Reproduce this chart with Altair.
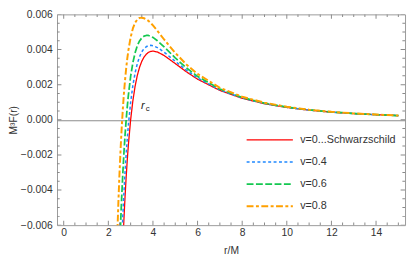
import altair as alt
import pandas as pd

# ---- data ----
r_grid = [2.4, 2.45, 2.5, 2.55, 2.6, 2.65, 2.7, 2.75, 2.8, 2.85, 2.9, 3.0, 3.1, 3.2, 3.3,
          3.4, 3.5, 3.6, 3.7, 3.8, 3.9, 4.0, 4.2, 4.5, 5.0, 5.5, 6.0, 7.0, 8.0, 9.0,
          10.0, 11.0, 12.0, 13.0, 14.0, 15.0]

F_v00 = [-0.01808, -0.01527, -0.0128, -0.01064, -0.00875, -0.0071, -0.00565, -0.00437,
         -0.00325, -0.00227, -0.00141, 0.0, 0.00108, 0.00191, 0.00253, 0.00299, 0.00333,
         0.00357, 0.00373, 0.00384, 0.00389, 0.00391, 0.00386, 0.00366, 0.0032, 0.00273,
         0.00231, 0.00167, 0.00122, 0.000914, 0.0007, 0.000546, 0.000434, 0.00035,
         0.000286, 0.000237]

F_v04 = [-0.01567, -0.01304, -0.01075, -0.00875, -0.007, -0.00547, -0.00414, -0.00297,
         -0.00195, -0.00106, -0.00028, 0.00099, 0.00195, 0.00267, 0.0032, 0.00359, 0.00387,
         0.00405, 0.00416, 0.00422, 0.00424, 0.00422, 0.00411, 0.00385, 0.00333, 0.00282,
         0.00238, 0.0017, 0.00124, 0.000927, 0.000708, 0.000552, 0.000438, 0.000353,
         0.000288, 0.000239]

F_v06 = [-0.01206, -0.00971, -0.00768, -0.00591, -0.00438, -0.00304, -0.00188, -0.00087,
         0.0, 0.00076, 0.00141, 0.00247, 0.00325, 0.00381, 0.00422, 0.00449, 0.00466,
         0.00476, 0.0048, 0.0048, 0.00475, 0.00469, 0.0045, 0.00415, 0.00352, 0.00295,
         0.00247, 0.00175, 0.00127, 0.000945, 0.00072, 0.00056, 0.000444, 0.000357,
         0.000292, 0.000241]

F_v08 = [-0.00663, -0.00472, -0.00307, -0.00166, -0.00044, 0.00061, 0.00151, 0.00227,
         0.00293, 0.00349, 0.00396, 0.00469, 0.0052, 0.00553, 0.00571, 0.0058, 0.00581,
         0.00578, 0.00572, 0.00563, 0.00551, 0.00537, 0.00506, 0.00457, 0.00381, 0.00315,
         0.00261, 0.00182, 0.00131, 0.000972, 0.000738, 0.000572, 0.000452, 0.000363,
         0.000296, 0.000244]

series_names = ["v=0...Schwarzschild", "v=0.4", "v=0.6", "v=0.8"]
series_values = [F_v00, F_v04, F_v06, F_v08]
series_colors = ["#ff0000", "#1e88ff", "#14c850", "#ffa000"]
series_dash = [[1, 0], [3, 2.5], [7, 2.5], [7, 2.5, 3, 2.5]]
series_width = [1.3, 2.0, 2.0, 2.0]

x_domain = [-0.3, 15.3]
y_domain = [-0.006, 0.006]
x_labels = [0, 2, 4, 6, 8, 10, 12, 14]
x_minor = [0.5, 1, 1.5, 2.5, 3, 3.5, 4.5, 5, 5.5, 6.5, 7, 7.5, 8.5, 9, 9.5,
           10.5, 11, 11.5, 12.5, 13, 13.5, 14.5, 15]
y_labels = [-0.006, -0.004, -0.002, 0.0, 0.002, 0.004, 0.006]
y_minor = [-0.0055, -0.005, -0.0045, -0.0035, -0.003, -0.0025, -0.0015, -0.001, -0.0005,
           0.0005, 0.001, 0.0015, 0.0025, 0.003, 0.0035, 0.0045, 0.005, 0.0055]

rc_r = [3.55]
rc_F = [0.00078]

rows = []
for name, vals in zip(series_names, series_values):
    for r, f in zip(r_grid, vals):
        rows.append({"r": r, "F": f, "series": name})
df = pd.DataFrame(rows)
rc_df = pd.DataFrame({"r": rc_r, "F": rc_F})

# frame tick positions: x ticks sit on the bottom/top edges, y ticks on the left/right edges
xt_major = pd.DataFrame([{"r": v, "F": e} for v in x_labels for e in y_domain])
xt_minor = pd.DataFrame([{"r": v, "F": e} for v in x_minor for e in y_domain])
yt_major = pd.DataFrame([{"r": e, "F": v} for v in y_labels for e in x_domain])
yt_minor = pd.DataFrame([{"r": e, "F": v} for v in y_minor for e in x_domain])

W, H = 355, 215
FONT = "Liberation Sans"
TXT = "#333333"
FRAME = "#9a9a9a"
TICK = "#8a8a8a"

xscale = alt.Scale(domain=x_domain, nice=False, zero=False)
yscale = alt.Scale(domain=y_domain, nice=False, zero=False)

legend = alt.Legend(
    title=None, orient="none", legendX=210, legendY=121,
    symbolType="M-4,0L4,0", symbolSize=139, symbolStrokeWidth=1.8,
    labelOffset=24, rowPadding=10.6, padding=0,
    labelFont=FONT, labelFontSize=11, labelColor=TXT, labelLimit=250,
)

lines = alt.Chart(df).mark_line(clip=True, strokeCap="butt", strokeJoin="round").encode(
    x=alt.X("r:Q", scale=xscale, axis=alt.Axis(
        orient="bottom", values=x_labels, format="d", title="r/M",
        ticks=False, tickSize=0, domain=False, grid=False,
        labelPadding=3, titlePadding=7)),
    y=alt.Y("F:Q", scale=yscale, axis=alt.Axis(
        orient="left", values=y_labels, format=".3f", title="M³F(r)",
        ticks=False, tickSize=0, domain=False, grid=True,
        gridColor="#8c8c8c", gridWidth=1.2,
        gridOpacity={"condition": {"test": "datum.value == 0", "value": 1}, "value": 0},
        labelPadding=5, titlePadding=2)),
    color=alt.Color("series:N", scale=alt.Scale(domain=series_names, range=series_colors), legend=legend),
    strokeDash=alt.StrokeDash("series:N", scale=alt.Scale(domain=series_names, range=series_dash), legend=legend),
    strokeWidth=alt.StrokeWidth("series:N", scale=alt.Scale(domain=series_names, range=series_width), legend=None),
)


def frame_ticks(data, orient, length):
    # ticks are centred on the frame edge; clipping keeps only the inward half
    return alt.Chart(data).mark_tick(orient=orient, size=2 * length, thickness=1,
                                     color=TICK, opacity=1, clip=True).encode(
        x=alt.X("r:Q", scale=xscale, axis=None),
        y=alt.Y("F:Q", scale=yscale, axis=None),
    )


tick_layers = [
    frame_ticks(xt_major, "vertical", 4.5),
    frame_ticks(xt_minor, "vertical", 2.7),
    frame_ticks(yt_major, "horizontal", 4.5),
    frame_ticks(yt_minor, "horizontal", 2.7),
]

rc_main = alt.Chart(rc_df).mark_text(text="r", font=FONT, fontStyle="italic", fontSize=11.5, color="#222222",
                                     align="center", baseline="middle").encode(
    x=alt.X("r:Q", scale=xscale, axis=None), y=alt.Y("F:Q", scale=yscale, axis=None))
rc_sub = alt.Chart(rc_df).mark_text(text="c", font=FONT, fontSize=8, color="#222222",
                                    align="left", baseline="middle", dx=3, dy=3).encode(
    x=alt.X("r:Q", scale=xscale, axis=None), y=alt.Y("F:Q", scale=yscale, axis=None))

chart = alt.layer(lines, *tick_layers, rc_main, rc_sub).resolve_axis(
    x="independent", y="independent"
).properties(
    width=W, height=H,
    padding={"left": 50, "top": 4, "right": 2, "bottom": 31},
    autosize=alt.AutoSizeParams(type="none"),
    background="white",
).configure_view(
    stroke=FRAME, strokeWidth=1
).configure_axis(
    labelFont=FONT, titleFont=FONT, labelFontSize=10.5, titleFontSize=10.5,
    labelColor=TXT, titleColor=TXT, titleFontWeight="normal",
)

chart.save("out.html", embed_options={"renderer": "svg", "actions": False})
